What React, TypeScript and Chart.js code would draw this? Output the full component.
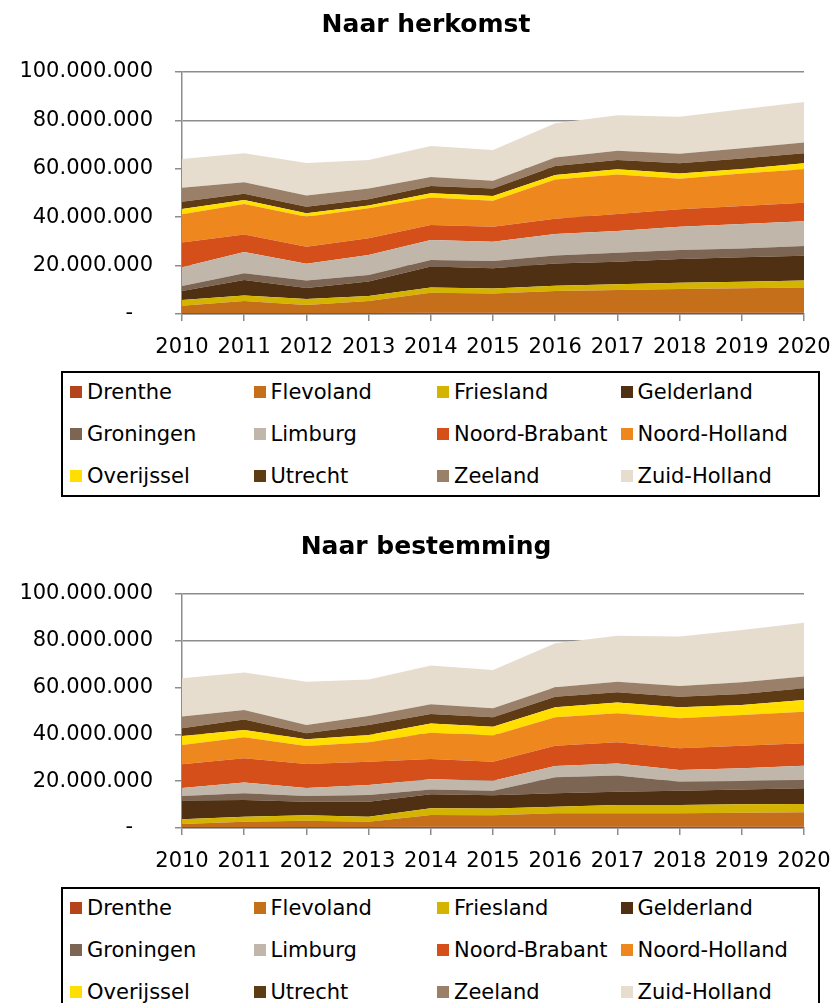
import React, { useEffect, useRef } from "react";
import { Chart, registerables } from "chart.js";

Chart.register(...registerables);

const years = ["2010", "2011", "2012", "2013", "2014", "2015", "2016", "2017", "2018", "2019", "2020"];

const provinces = [
  "Drenthe", "Flevoland", "Friesland", "Gelderland", "Groningen", "Limburg",
  "Noord-Brabant", "Noord-Holland", "Overijssel", "Utrecht", "Zeeland", "Zuid-Holland",
];

const colors = [
  "#B3441B", "#C66F1A", "#D4B400", "#4F3013", "#7C6553", "#C0B6AA",
  "#D44F19", "#EF871F", "#FFDE00", "#5E3A15", "#9B8069", "#E7DDCF",
];

// Values in millions — "Naar herkomst"
const herkomstDrenthe = [0.4, 0.4, 0.4, 0.4, 0.5, 0.5, 0.5, 0.5, 0.5, 0.5, 0.5];
const herkomstFlevoland = [3.0, 5.0, 3.3, 5.0, 8.3, 8.0, 9.0, 9.4, 9.8, 10.1, 10.4];
const herkomstFriesland = [2.4, 2.2, 2.5, 2.0, 2.2, 2.0, 2.2, 2.4, 2.6, 2.7, 2.9];
const herkomstGelderland = [3.7, 6.4, 4.5, 6.0, 8.6, 8.4, 9.2, 9.3, 9.8, 10.1, 10.3];
const herkomstGroningen = [2.1, 2.8, 3.1, 2.7, 2.7, 3.0, 3.3, 3.7, 3.7, 3.7, 4.0];
const herkomstLimburg = [7.7, 8.8, 7.0, 8.3, 8.3, 8.0, 8.9, 9.0, 9.7, 10.1, 10.2];
const herkomstNoordBrabant = [10.2, 7.3, 7.0, 6.9, 6.2, 6.2, 6.3, 7.0, 7.2, 7.4, 7.7];
const herkomstNoordHolland = [11.7, 12.6, 12.4, 12.4, 11.3, 10.7, 16.2, 16.3, 12.6, 13.5, 13.8];
const herkomstOverijssel = [2.2, 1.6, 1.4, 1.1, 1.8, 2.0, 1.8, 2.2, 2.2, 1.8, 2.5];
const herkomstUtrecht = [3.0, 2.6, 2.7, 2.6, 3.0, 3.1, 3.8, 3.8, 4.2, 4.4, 4.1];
const herkomstZeeland = [5.8, 4.7, 4.7, 4.5, 3.7, 3.2, 3.5, 3.9, 3.9, 4.2, 4.5];
const herkomstZuidHolland = [11.8, 12.0, 13.4, 11.7, 12.8, 12.7, 14.1, 14.6, 15.3, 16.1, 16.7];

// "Naar bestemming"
const bestemmingDrenthe = [0.4, 0.4, 0.4, 0.4, 0.5, 0.5, 0.5, 0.5, 0.5, 0.5, 0.5];
const bestemmingFlevoland = [1.3, 2.3, 2.7, 2.3, 5.1, 4.9, 5.8, 5.8, 5.8, 6.0, 6.2];
const bestemmingFriesland = [2.0, 2.1, 2.3, 2.1, 2.8, 2.9, 2.8, 3.5, 3.5, 3.6, 3.6];
const bestemmingGelderland = [8.0, 7.2, 5.8, 6.4, 6.0, 5.7, 5.7, 5.7, 6.1, 6.4, 6.7];
const bestemmingGroningen = [2.0, 2.8, 2.5, 2.9, 2.1, 1.9, 6.9, 6.9, 3.9, 3.6, 3.5];
const bestemmingLimburg = [3.4, 4.6, 3.4, 4.3, 4.3, 4.3, 4.8, 5.2, 5.0, 5.4, 6.1];
const bestemmingNoordBrabant = [10.1, 10.4, 10.3, 9.9, 8.7, 8.1, 8.7, 9.0, 9.3, 9.7, 9.6];
const bestemmingNoordHolland = [8.3, 9.0, 7.6, 8.3, 11.2, 11.2, 12.1, 12.4, 12.8, 13.1, 13.5];
const bestemmingOverijssel = [3.8, 3.1, 2.9, 3.1, 4.0, 3.8, 4.3, 4.6, 4.7, 4.3, 5.0];
const bestemmingUtrecht = [3.3, 4.5, 2.6, 4.3, 4.0, 4.0, 4.5, 4.4, 4.5, 4.7, 5.0];
const bestemmingZeeland = [5.0, 4.0, 3.5, 3.9, 4.2, 3.9, 4.0, 4.5, 4.6, 5.0, 5.0];
const bestemmingZuidHolland = [16.4, 16.1, 18.5, 15.6, 16.5, 16.3, 18.8, 19.7, 21.1, 22.3, 23.0];

const herkomstSeries = [
  herkomstDrenthe, herkomstFlevoland, herkomstFriesland, herkomstGelderland,
  herkomstGroningen, herkomstLimburg, herkomstNoordBrabant, herkomstNoordHolland,
  herkomstOverijssel, herkomstUtrecht, herkomstZeeland, herkomstZuidHolland,
];
const bestemmingSeries = [
  bestemmingDrenthe, bestemmingFlevoland, bestemmingFriesland, bestemmingGelderland,
  bestemmingGroningen, bestemmingLimburg, bestemmingNoordBrabant, bestemmingNoordHolland,
  bestemmingOverijssel, bestemmingUtrecht, bestemmingZeeland, bestemmingZuidHolland,
];

const FONT = '"DejaVu Sans", Verdana, sans-serif';
const GRID = "#8c8c8c";

function formatTick(v: number): string {
  if (v === 0) return "-   ";
  return String(Math.round(v)).replace(/\B(?=(\d{3})+(?!\d))/g, ".");
}

function AreaChart({ title, series, height, xHeight }: { title: string; series: number[][]; height: number; xHeight: number }) {
  const ref = useRef<HTMLCanvasElement | null>(null);
  useEffect(() => {
    if (!ref.current) return;
    const chart = new Chart(ref.current, {
      type: "line",
      data: {
        labels: years,
        datasets: series.map((vals, i) => ({
          label: provinces[i],
          data: vals.map((v) => v * 1e6),
          backgroundColor: colors[i],
          borderColor: colors[i],
          borderWidth: 0,
          pointRadius: 0,
          tension: 0,
          fill: i === 0 ? "origin" : "-1",
        })),
      },
      options: {
        animation: false,
        responsive: false,
        devicePixelRatio: 1,
        layout: { padding: { left: 0, right: 30, top: 72, bottom: 0 } },
        plugins: {
          legend: { display: false },
          tooltip: { enabled: false },
          title: { display: false },
        },
        scales: {
          x: {
            type: "category",
            offset: false,
            grid: { display: true, drawOnChartArea: false, drawTicks: true, tickLength: 7, color: GRID, lineWidth: 1.5 },
            border: { display: true, color: GRID, width: 1.5 },
            ticks: {
              color: "#000",
              font: { family: FONT, size: 21, lineHeight: 2.3 },
              padding: 2,
              maxRotation: 0,
              autoSkip: false,
            },
            afterFit: (s: any) => { s.height = xHeight; },
          },
          y: {
            stacked: true,
            min: 0,
            max: 100000000,
            grid: { color: GRID, lineWidth: 1.5, tickLength: 7, drawTicks: true },
            border: { display: true, color: GRID, width: 1.5 },
            ticks: {
              stepSize: 20000000,
              color: "#000",
              font: { family: FONT, size: 21 },
              padding: 22,
              callback: (v: any) => formatTick(Number(v)),
            },
            afterFit: (s: any) => { s.width = 182; },
          },
        },
      },
    });
    return () => chart.destroy();
  }, []);
  return (
    <div style={{ position: "relative", width: 834, height }}>
      <canvas ref={ref} width={834} height={height} style={{ display: "block", width: 834, height }} />
      <div
        style={{
          position: "absolute", left: 0, top: 9, width: 852, lineHeight: "30px",
          textAlign: "center", font: `bold 25px ${FONT}`, color: "#000", whiteSpace: "nowrap",
        }}
      >
        {title}
      </div>
    </div>
  );
}

function Legend({ top }: { top: number }) {
  return (
    <div
      style={{
        position: "absolute", left: 61, top, width: 759, height: 126,
        border: "2px solid #000", boxSizing: "border-box", background: "#fff",
      }}
    >
      {provinces.map((name, i) => {
        const col = i % 4;
        const row = Math.floor(i / 4);
        return (
          <div
            key={name}
            style={{
              position: "absolute", left: 7 + col * 183.5, top: 7 + row * 42, height: 24,
              display: "flex", alignItems: "center", whiteSpace: "nowrap",
              font: `21px ${FONT}`, color: "#000",
            }}
          >
            <span style={{ display: "inline-block", width: 12, height: 12, background: colors[i], marginRight: 5 }} />
            {name}
          </div>
        );
      })}
    </div>
  );
}

export default function App() {
  return (
    <div style={{ position: "absolute", left: 0, top: 0, width: 834, height: 1003, overflow: "hidden", background: "#fff" }}>
      <div style={{ position: "absolute", left: 0, top: 0 }}>
        <AreaChart title="Naar herkomst" series={herkomstSeries} height={365} xHeight={51} />
      </div>
      <Legend top={371} />
      <div style={{ position: "absolute", left: 0, top: 522 }}>
        <AreaChart title="Naar bestemming" series={bestemmingSeries} height={360} xHeight={54} />
      </div>
      <Legend top={887} />
    </div>
  );
}
